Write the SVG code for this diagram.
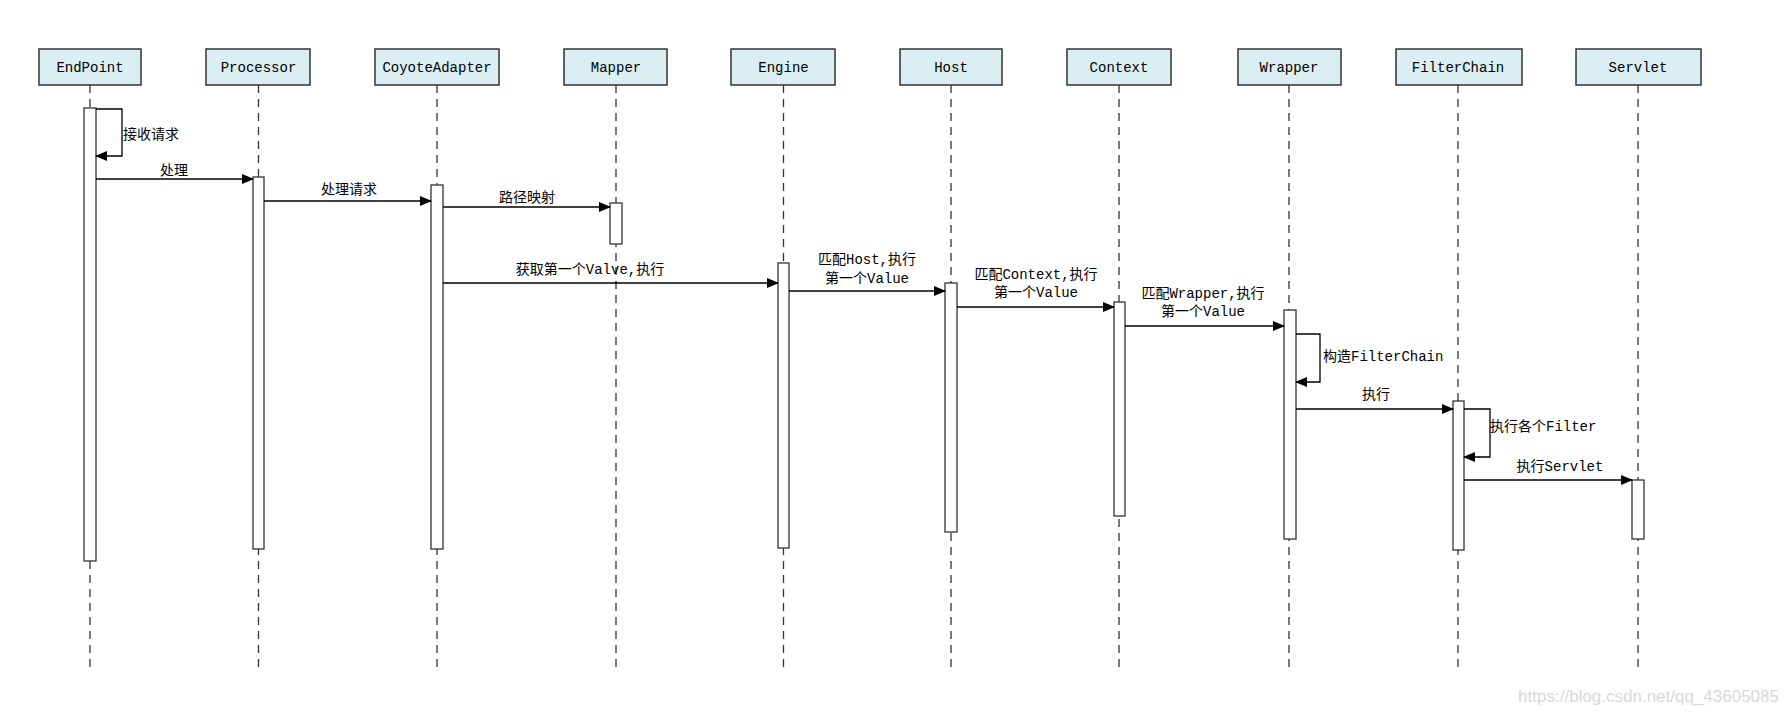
<svg xmlns="http://www.w3.org/2000/svg" width="1786" height="717" viewBox="0 0 1786 717">
<defs>
<marker id="ah" markerWidth="12" markerHeight="10" refX="11" refY="5" orient="auto" markerUnits="userSpaceOnUse"><path d="M0,0 L12,5 L0,10 Z" fill="#000"/></marker>
<style>
.hd{fill:#daeef3;stroke:#333;stroke-width:1.5}
.ll{stroke:#333;stroke-width:1.3;stroke-dasharray:8,6;fill:none}
.act{fill:#fff;stroke:#333;stroke-width:1.3}
.m{stroke:#000;stroke-width:1.3;fill:none;marker-end:url(#ah)}
text{font-family:"Liberation Mono","Noto Sans CJK SC",monospace;font-size:14px;fill:#000}
.c{text-anchor:middle}
.w{font-family:"Liberation Sans",sans-serif;font-size:17px;fill:#d8d8d8;text-anchor:end}
</style>
</defs>
<rect width="1786" height="717" fill="#fff"/>
<g id="lifelines">
<line class="ll" x1="90" y1="85" x2="90" y2="668"/>
<line class="ll" x1="258.5" y1="85" x2="258.5" y2="668"/>
<line class="ll" x1="437" y1="85" x2="437" y2="668"/>
<line class="ll" x1="616" y1="85" x2="616" y2="668"/>
<line class="ll" x1="783.5" y1="85" x2="783.5" y2="668"/>
<line class="ll" x1="951" y1="85" x2="951" y2="668"/>
<line class="ll" x1="1119" y1="85" x2="1119" y2="668"/>
<line class="ll" x1="1289" y1="85" x2="1289" y2="668"/>
<line class="ll" x1="1458" y1="85" x2="1458" y2="668"/>
<line class="ll" x1="1638" y1="85" x2="1638" y2="668"/>
</g>
<g id="EndPoint"><rect class="hd" x="39" y="49" width="102" height="36"/><text class="c" x="90" y="72">EndPoint</text><rect class="act" x="84" y="108" width="12" height="453"/></g>
<g id="Processor"><rect class="hd" x="206" y="49" width="104" height="36"/><text class="c" x="258.5" y="72">Processor</text><rect class="act" x="253" y="177" width="11" height="372"/></g>
<g id="CoyoteAdapter"><rect class="hd" x="375" y="49" width="124" height="36"/><text class="c" x="437" y="72">CoyoteAdapter</text><rect class="act" x="431" y="185" width="12" height="364"/></g>
<g id="Mapper"><rect class="hd" x="564" y="49" width="103" height="36"/><text class="c" x="616" y="72">Mapper</text><rect class="act" x="610" y="203" width="12" height="41"/></g>
<g id="Engine"><rect class="hd" x="731" y="49" width="104" height="36"/><text class="c" x="783.5" y="72">Engine</text><rect class="act" x="778" y="263" width="11" height="285"/></g>
<g id="Host"><rect class="hd" x="900" y="49" width="102" height="36"/><text class="c" x="951" y="72">Host</text><rect class="act" x="945" y="283" width="12" height="249"/></g>
<g id="Context"><rect class="hd" x="1067" y="49" width="104" height="36"/><text class="c" x="1119" y="72">Context</text><rect class="act" x="1114" y="302" width="11" height="214"/></g>
<g id="Wrapper"><rect class="hd" x="1238" y="49" width="103" height="36"/><text class="c" x="1289" y="72">Wrapper</text><rect class="act" x="1284" y="310" width="12" height="229"/></g>
<g id="FilterChain"><rect class="hd" x="1396" y="49" width="126" height="36"/><text class="c" x="1458" y="72">FilterChain</text><rect class="act" x="1453" y="401" width="11" height="149"/></g>
<g id="Servlet"><rect class="hd" x="1576" y="49" width="125" height="36"/><text class="c" x="1638" y="72">Servlet</text><rect class="act" x="1632" y="480" width="12" height="59"/></g>
<g id="connectors">
<path class="m" d="M96,109 H122 V156 H96"/>
<path class="m" d="M96,179 H253"/>
<path class="m" d="M264,201 H431"/>
<path class="m" d="M443,207 H610"/>
<path class="m" d="M443,283 H778"/>
<path class="m" d="M789,291 H945"/>
<path class="m" d="M957,307 H1114"/>
<path class="m" d="M1125,326 H1284"/>
<path class="m" d="M1296,334 H1320 V382 H1296"/>
<path class="m" d="M1296,409 H1453"/>
<path class="m" d="M1464,409 H1490 V457 H1464"/>
<path class="m" d="M1464,480 H1632"/>
</g>
<g id="labels">
<text x="123" y="139">接收请求</text>
<text class="c" x="174" y="175">处理</text>
<text class="c" x="349" y="194">处理请求</text>
<text class="c" x="527" y="202">路径映射</text>
<text class="c" x="590" y="274">获取第一个Valve,执行</text>
<text class="c" x="867" y="264">匹配Host,执行</text>
<text class="c" x="867" y="283">第一个Value</text>
<text class="c" x="1036" y="279">匹配Context,执行</text>
<text class="c" x="1036" y="297">第一个Value</text>
<text class="c" x="1203" y="298">匹配Wrapper,执行</text>
<text class="c" x="1203" y="316">第一个Value</text>
<text x="1323" y="361">构造FilterChain</text>
<text class="c" x="1376" y="399">执行</text>
<text x="1490" y="431">执行各个Filter</text>
<text class="c" x="1560" y="471">执行Servlet</text>
</g>
<text class="w" x="1779" y="702">https://blog.csdn.net/qq_43605085</text>
</svg>
